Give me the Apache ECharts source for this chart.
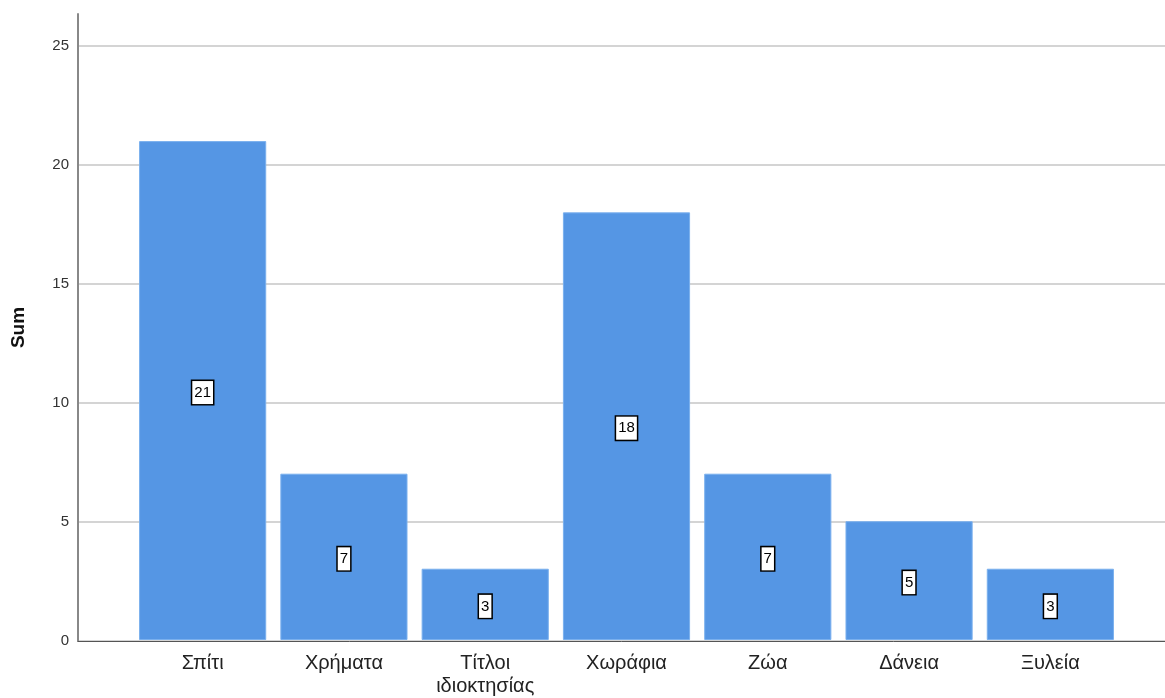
<!DOCTYPE html>
<html><head><meta charset="utf-8">
<script src="https://cdn.jsdelivr.net/npm/echarts@6/dist/echarts.min.js"></script>
<style>html,body{margin:0;padding:0;background:#fff}#c{width:1165px;height:698px}</style>
</head><body><div id="c"></div>
<script>
const categories = ['Σπίτι', 'Χρήματα', 'Τίτλοι\nιδιοκτησίας', 'Χωράφια', 'Ζώα', 'Δάνεια', 'Ξυλεία'];
const values = [21, 7, 3, 18, 7, 5, 3];
const yMin = 0, yMax = 26.35, yInterval = 5;
const yTitle = 'Sum';

const chart = echarts.init(document.getElementById('c'));
chart.setOption({
  animation: false,
  textStyle: { fontFamily: 'Liberation Sans, Arial, sans-serif' },
  grid: [
    { left: 78, right: 0, top: 14, bottom: 57 },
    { left: 132, right: 44, top: 14, bottom: 57 }
  ],
  xAxis: [
    { gridIndex: 0, type: 'value', min: 0, max: 1, axisLine: { show: true, onZero: false, lineStyle: { color: '#555', width: 1 } },
      axisTick: { show: false }, axisLabel: { show: false }, splitLine: { show: false } },
    { gridIndex: 1, type: 'category', data: categories, axisLine: { show: false }, axisTick: { show: false },
      axisLabel: { color: '#222', fontSize: 20, margin: 12, lineHeight: 23, interval: 0 } }
  ],
  yAxis: [
    { gridIndex: 0, type: 'value', min: yMin, max: yMax, interval: yInterval,
      name: yTitle, nameLocation: 'middle', nameGap: 50, nameRotate: 90,
      nameTextStyle: { fontWeight: 'bold', fontSize: 19, color: '#111' },
      axisLine: { show: true, lineStyle: { color: '#888', width: 2 } }, axisTick: { show: false },
      axisLabel: { color: '#333', fontSize: 15, margin: 9, showMaxLabel: false,
        formatter: v => (v % 5 === 0 ? v : '') },
      splitLine: { showMaxLine: false, lineStyle: { color: '#d4d4d4', width: 2 } } },
    { gridIndex: 1, type: 'value', min: yMin, max: yMax, interval: yInterval, show: false, splitLine: { show: false } }
  ],
  series: [{
    type: 'bar', xAxisIndex: 1, yAxisIndex: 1, data: values, barCategoryGap: '10%',
    itemStyle: { color: '#5596e4', borderColor: '#7ab0ee', borderWidth: 1 },
    label: { show: true, position: 'inside', offset: [0, 2], color: '#000', fontSize: 15, backgroundColor: '#fff',
      borderColor: '#000', borderWidth: 1.5, padding: [5, 2, 3, 2] }
  }]
});
</script></body></html>
